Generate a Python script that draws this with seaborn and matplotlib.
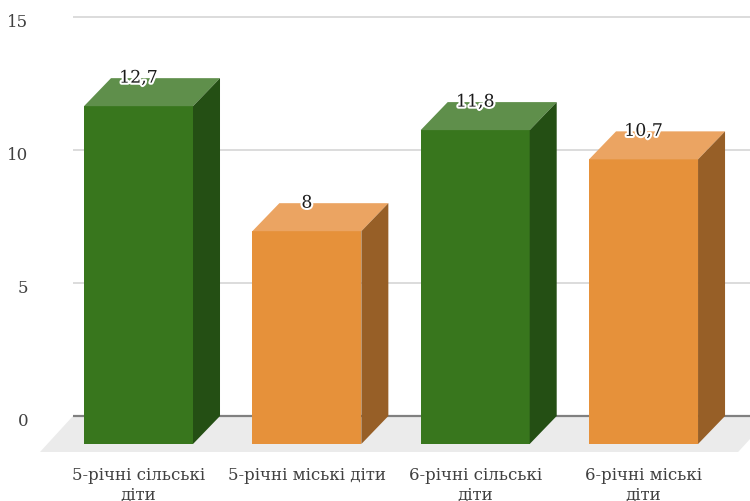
import matplotlib
matplotlib.use("Agg")
import matplotlib.pyplot as plt
import matplotlib.patheffects as pe
from matplotlib.patches import Polygon
from matplotlib.transforms import ScaledTranslation
import seaborn as sns
import numpy as np

# Data
categories = ["5-річні сільські діти", "5-річні міські діти",
              "6-річні сільські діти", "6-річні міські діти"]
tick_labels = ["5-річні сільські\nдіти", "5-річні міські діти",
               "6-річні сільські\nдіти", "6-річні міські\nдіти"]
values = [12.7, 8, 11.8, 10.7]
value_labels = ["12,7", "8", "11,8", "10,7"]
y_ticks = [0, 5, 10, 15]

# Face colours per bar: front, top, side
front_colors = ["#38761d", "#e6913a", "#38761d", "#e6913a"]
top_colors = ["#5f8f4b", "#eba462", "#5f8f4b", "#eba462"]
side_colors = ["#244f14", "#975f27", "#244f14", "#975f27"]

sns.set_theme(style="white")
plt.rcParams["font.family"] = ["DejaVu Serif"]

W, H = 750, 502
fig = plt.figure(figsize=(W / 100, H / 100), dpi=100)
ax = fig.add_axes([73 / W, (H - 460) / H, (W - 73) / W, 450 / H])

BAR_W = 0.6475
sns.barplot(x=categories, y=values, hue=categories, palette=front_colors,
            legend=False, width=BAR_W, saturation=1, ax=ax, zorder=3)

XL, XR = -0.5495, 3.472
ax.set_xlim(XL, XR)
ax.set_ylim(-1.617, 15.3)

# 3D depth offsets (category units, value units)
DX, DY = 0.1604, 1.053

# floor
FDX, FDY = 0.196, 1.353
floor_r = XL + 4.147
ax.add_patch(Polygon([(XL, 0), (floor_r, 0), (floor_r - FDX, -FDY), (XL - FDX, -FDY)],
                     closed=True, facecolor="#ebebeb", edgecolor="none",
                     zorder=0, clip_on=False))

# back-wall gridlines and baseline
for t in y_ticks[1:]:
    ax.axhline(t, color="#d9d9d9", lw=1.3, zorder=1)
ax.axhline(0, color="#808080", lw=1.6, zorder=1)

for i, (patch, v) in enumerate(zip(ax.patches, values)):
    x0 = patch.get_x()
    x1 = x0 + patch.get_width()
    # front face shifted toward the viewer
    patch.set_x(x0 - DX)
    patch.set_y(-DY)
    patch.set_height(v)
    patch.set_edgecolor("none")
    patch.set_clip_on(False)
    ax.add_patch(Polygon([(x0 - DX, v - DY), (x1 - DX, v - DY), (x1, v), (x0, v)],
                         closed=True, facecolor=top_colors[i], edgecolor="none",
                         zorder=3, clip_on=False))
    ax.add_patch(Polygon([(x1 - DX, -DY), (x1, 0), (x1, v), (x1 - DX, v - DY)],
                         closed=True, facecolor=side_colors[i], edgecolor="none",
                         zorder=3, clip_on=False))
    cx = (x0 + x1) / 2 - DX
    ax.text(cx, v, value_labels[i], ha="center", va="center", fontsize=12.5,
            color="#1a1a1a", zorder=5,
            path_effects=[pe.withStroke(linewidth=3, foreground="white")])

ax.set_xticks(np.arange(len(categories)) - DX, tick_labels)
ax.set_yticks(y_ticks, [str(t) for t in y_ticks])
ax.tick_params(axis="x", length=0, pad=5, labelsize=12, labelcolor="#404040")
ax.tick_params(axis="y", length=0, pad=32, labelsize=12, labelcolor="#404040")
for lab in ax.get_xticklabels():
    lab.set_linespacing(1.2)
shift = ScaledTranslation(0, -3 / 100, fig.dpi_scale_trans)
for lab in ax.get_yticklabels():
    lab.set_horizontalalignment("right")
    lab.set_transform(lab.get_transform() + shift)
for s in ax.spines.values():
    s.set_visible(False)
ax.set_xlabel("")
ax.set_ylabel("")
ax.patch.set_alpha(0)

fig.savefig("out.png", dpi=100)
